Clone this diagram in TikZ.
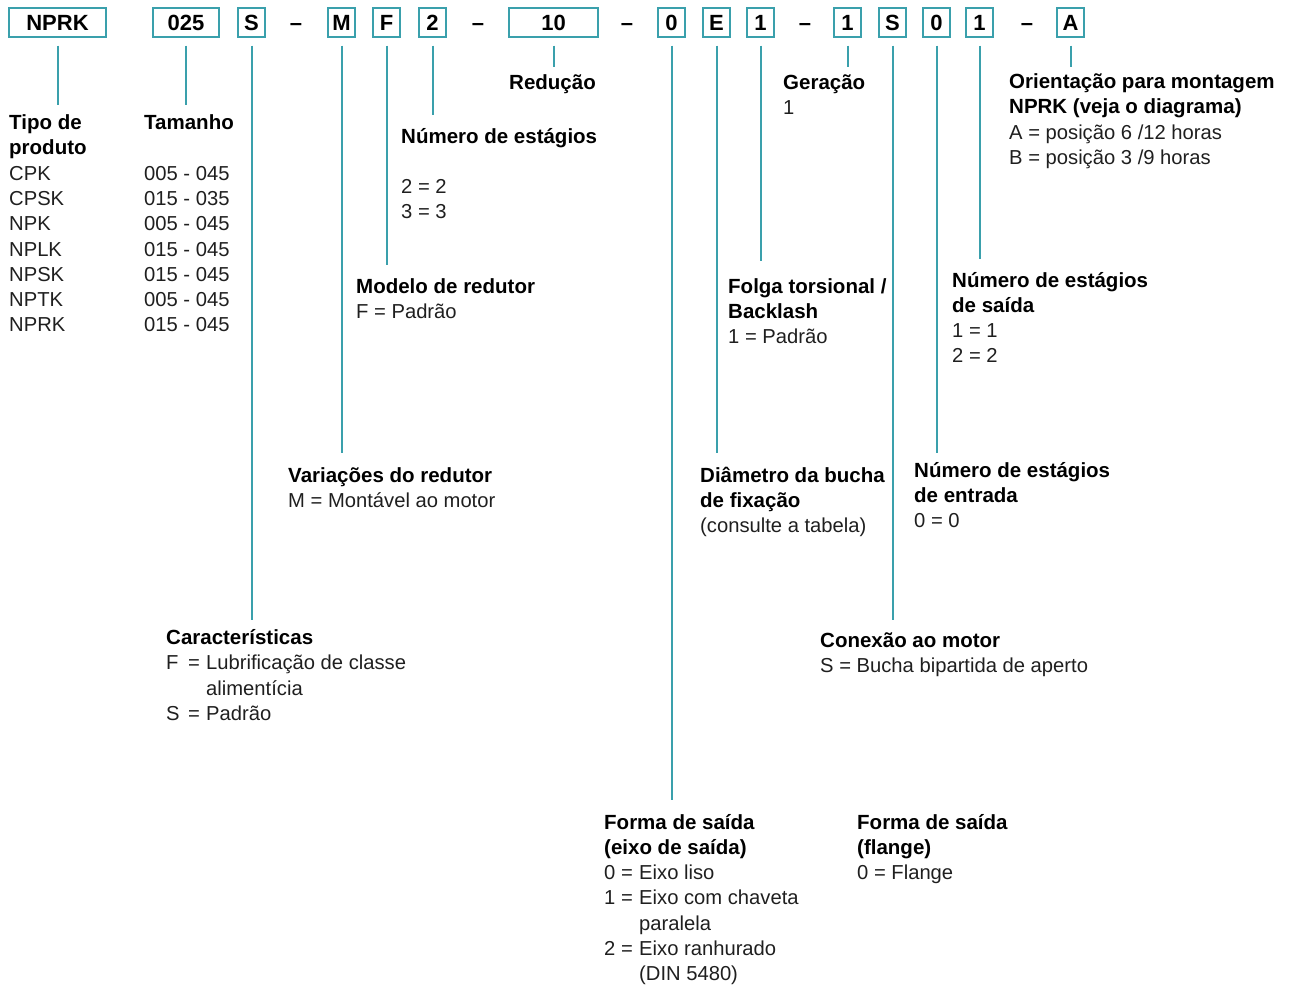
\documentclass[tikz,border=0pt]{standalone}
\usepackage{fontspec}
\setmainfont{Liberation Sans}
\definecolor{tealline}{RGB}{58,160,172}
\newcommand\kvline[3]{\makebox[#1][l]{#2}\makebox[18pt][l]{=}#3}
\newcommand\hd[1]{{\fontsize{20.5}{25.3}\selectfont\bfseries\color{black}#1}}
\tikzset{
  codebox/.style={draw=tealline, line width=2pt, minimum height=29pt, inner sep=0pt,
    font=\fontsize{22}{24}\selectfont\bfseries, text=black},
  codedash/.style={inner sep=0pt, anchor=base, font=\fontsize{22}{24}\selectfont\bfseries},
  desc/.style={anchor=base west, inner sep=0pt, align=left,
    font=\fontsize{20.2}{25.3}\selectfont, text=black!88},
  lead/.style={draw=tealline, line width=2pt}
}
\begin{document}
\begin{tikzpicture}[x=1pt,y=-1pt]
\useasboundingbox (0,0) rectangle (1289,988);
% code boxes
\node[codebox, minimum width=97pt] (bNPRK) at (57.5,22.5) {NPRK};
\node[codebox, minimum width=66pt] (b025) at (186,22.5) {025};
\node[codebox, minimum width=27pt] (bS1) at (251.5,22.5) {S};
\node[codedash] (d1) at (296,30) {–};
\node[codebox, minimum width=27pt] (bM) at (341.5,22.5) {M};
\node[codebox, minimum width=27pt] (bF) at (386.5,22.5) {F};
\node[codebox, minimum width=27pt] (b2) at (432.5,22.5) {2};
\node[codedash] (d2) at (478,30) {–};
\node[codebox, minimum width=89pt] (b10) at (553.5,22.5) {10};
\node[codedash] (d3) at (627,30) {–};
\node[codebox, minimum width=27pt] (b0a) at (671.5,22.5) {0};
\node[codebox, minimum width=27pt] (bE) at (716.5,22.5) {E};
\node[codebox, minimum width=27pt] (b1a) at (760.5,22.5) {1};
\node[codedash] (d4) at (805,30) {–};
\node[codebox, minimum width=27pt] (b1b) at (847.5,22.5) {1};
\node[codebox, minimum width=27pt] (bS2) at (892.5,22.5) {S};
\node[codebox, minimum width=27pt] (b0b) at (936.5,22.5) {0};
\node[codebox, minimum width=27pt] (b1c) at (979.5,22.5) {1};
\node[codedash] (d5) at (1027,30) {–};
\node[codebox, minimum width=27pt] (bA) at (1070.5,22.5) {A};

% line end coordinates
\coordinate (eNPRK) at (57.5,105);
\coordinate (e025) at (186,105);
\coordinate (eS1) at (251.5,620);
\coordinate (eM) at (341.5,453);
\coordinate (eF) at (386.5,265);
\coordinate (e2) at (432.5,115);
\coordinate (e10) at (553.5,67);
\coordinate (e0a) at (671.5,800);
\coordinate (eE) at (716.5,453);
\coordinate (e1a) at (760.5,261);
\coordinate (e1b) at (847.5,67);
\coordinate (eS2) at (892.5,620);
\coordinate (e0b) at (936.5,453);
\coordinate (e1c) at (979.5,259);
\coordinate (eA) at (1070.5,67);

\foreach \n in {NPRK,025,S1,M,F,2,10,0a,E,1a,1b,S2,0b,1c,A}{
  \draw[lead] ([yshift=-7.5pt]b\n.south) -- (e\n);
}

% descriptions
\node[desc] (tTipo) at (9,129.5) {\begin{tabular}[t]{@{}l@{}}
\hd{Tipo de}\\ \hd{produto}\\ CPK\\ CPSK\\ NPK\\ NPLK\\ NPSK\\ NPTK\\ NPRK\end{tabular}};
\node[desc] (tTam) at (144,129.5) {\begin{tabular}[t]{@{}l@{}}
\hd{Tamanho}\\ \\ 005 - 045\\ 015 - 035\\ 005 - 045\\ 015 - 045\\ 015 - 045\\ 005 - 045\\ 015 - 045\end{tabular}};
\node[desc] (tRed) at (509,89) {\hd{Redução}};
\node[desc] (tGer) at (783,89) {\begin{tabular}[t]{@{}l@{}}\hd{Geração}\\ 1\end{tabular}};
\node[desc] (tOri) at (1009,88.5) {\begin{tabular}[t]{@{}l@{}}
\hd{Orientação para montagem}\\ \hd{NPRK (veja o diagrama)}\\ A = posição 6 /12 horas\\ B = posição 3 /9 horas\end{tabular}};
\node[desc] (tNum) at (401,143) {\begin{tabular}[t]{@{}l@{}}
\hd{Número de estágios}\\ \\ 2 = 2\\ 3 = 3\end{tabular}};
\node[desc] (tMod) at (356,293) {\begin{tabular}[t]{@{}l@{}}
\hd{Modelo de redutor}\\ F = Padrão\end{tabular}};
\node[desc] (tFol) at (728,293) {\begin{tabular}[t]{@{}l@{}}
\hd{Folga torsional /}\\ \hd{Backlash}\\ 1 = Padrão\end{tabular}};
\node[desc] (tSai) at (952,287) {\begin{tabular}[t]{@{}l@{}}
\hd{Número de estágios}\\ \hd{de saída}\\ 1 = 1\\ 2 = 2\end{tabular}};
\node[desc] (tVar) at (288,482) {\begin{tabular}[t]{@{}l@{}}
\hd{Variações do redutor}\\ M = Montável ao motor\end{tabular}};
\node[desc] (tDia) at (700,482) {\begin{tabular}[t]{@{}l@{}}
\hd{Diâmetro da bucha}\\ \hd{de fixação}\\ (consulte a tabela)\end{tabular}};
\node[desc] (tEnt) at (914,477) {\begin{tabular}[t]{@{}l@{}}
\hd{Número de estágios}\\ \hd{de entrada}\\ 0 = 0\end{tabular}};
\node[desc] (tCar) at (166,644.5) {\begin{tabular}[t]{@{}l@{}}
\hd{Características}\\ \kvline{22pt}{F}{Lubrificação de classe}\\ \hspace{40pt}alimentícia\\ \kvline{22pt}{S}{Padrão}\end{tabular}};
\node[desc] (tCon) at (820,647) {\begin{tabular}[t]{@{}l@{}}
\hd{Conexão ao motor}\\ S = Bucha bipartida de aperto\end{tabular}};
\node[desc] (tFor) at (604,829) {\begin{tabular}[t]{@{}l@{}}
\hd{Forma de saída}\\ \hd{(eixo de saída)}\\ \kvline{17pt}{0}{Eixo liso}\\ \kvline{17pt}{1}{Eixo com chaveta}\\ \hspace{35pt}paralela\\ \kvline{17pt}{2}{Eixo ranhurado}\\ \hspace{35pt}(DIN 5480)\end{tabular}};
\node[desc] (tFla) at (857,829) {\begin{tabular}[t]{@{}l@{}}
\hd{Forma de saída}\\ \hd{(flange)}\\ 0 = Flange\end{tabular}};
\end{tikzpicture}
\end{document}
